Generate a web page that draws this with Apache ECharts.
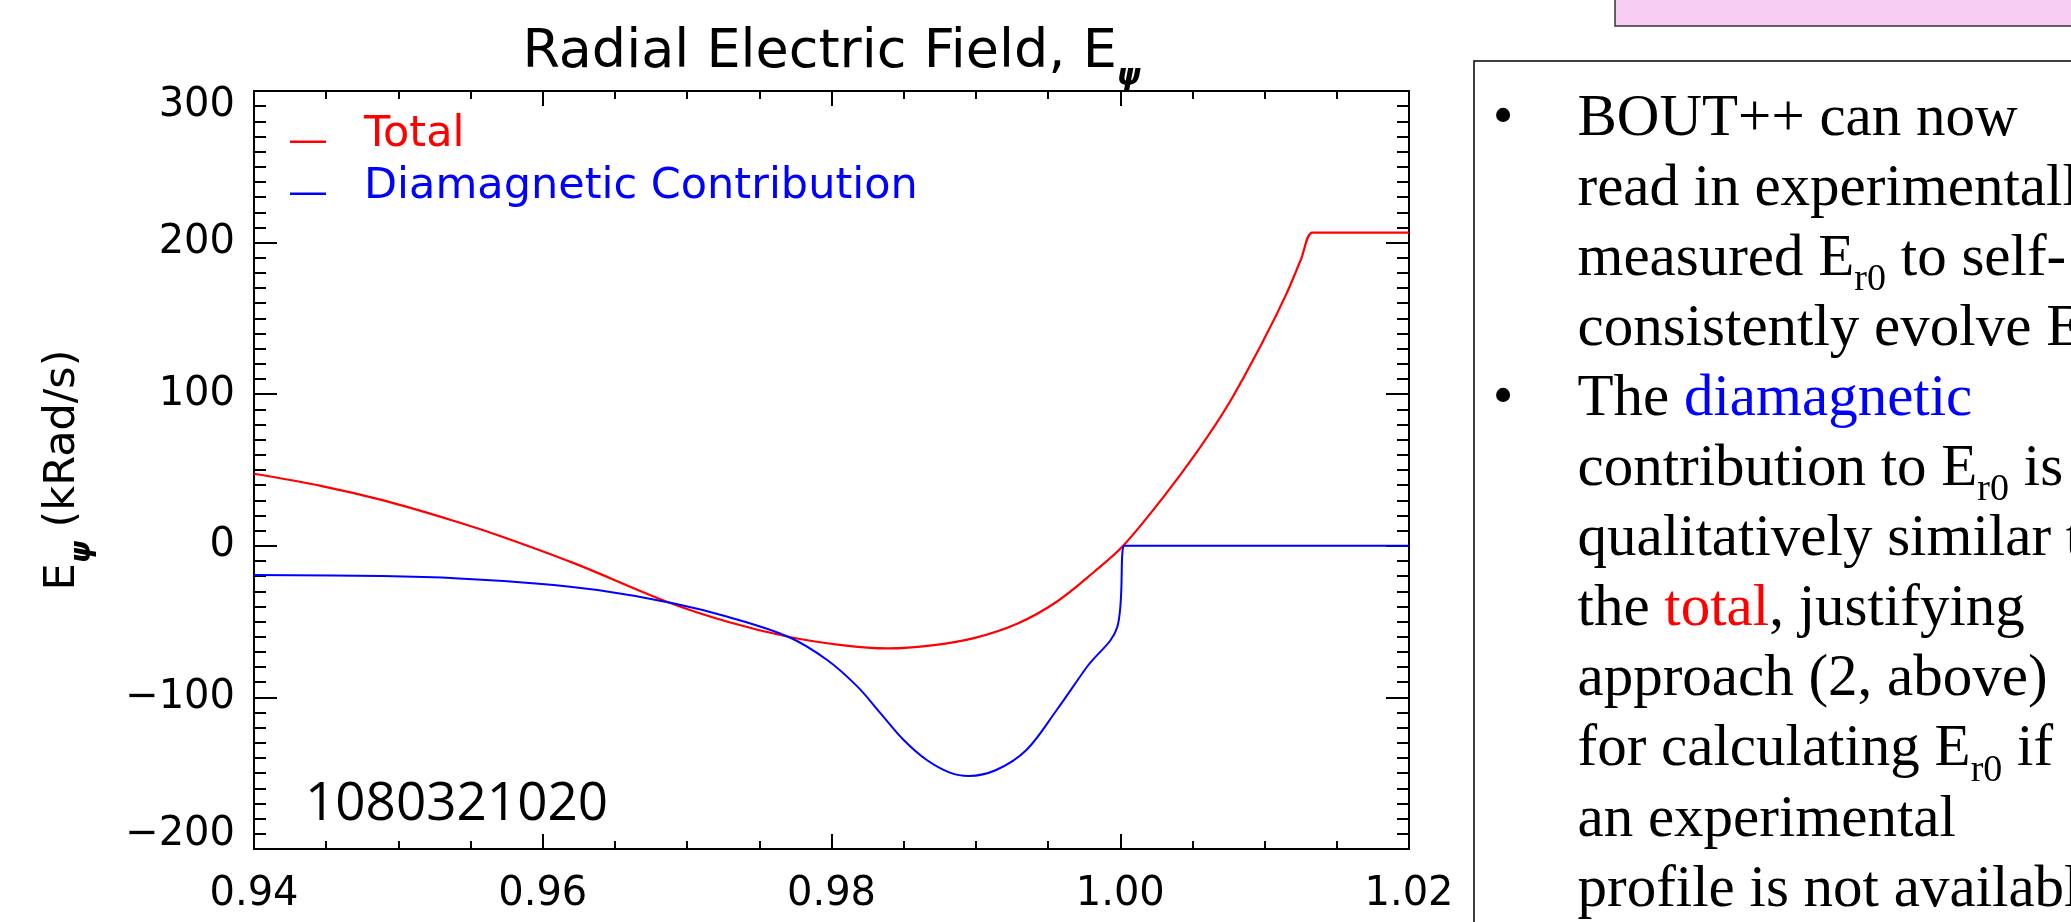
<!DOCTYPE html>
<html>
<head>
<meta charset="utf-8">
<script src="https://cdn.jsdelivr.net/npm/echarts@6/dist/echarts.min.js"></script>
<style>
  html, body { margin: 0; padding: 0; background: #ffffff; }
  #chart { width: 2071px; height: 922px; }
</style>
</head>
<body>
<div id="chart"></div>
<script>
// Radial electric field profiles against normalised flux (kRad/s)
const totalX = [0.9400, 0.9447, 0.9489, 0.9537, 0.9569, 0.9622, 0.9686, 0.9728, 0.9770, 0.9807,
                0.9839, 0.9871, 0.9898, 0.9929, 0.9956, 0.9982, 1.0002, 1.0030, 1.0054, 1.0075,
                1.0100, 1.0115, 1.0125, 1.0133, 1.0140, 1.0200];
const totalY = [47.5, 39.4, 30.1, 16.9, 7.0, -11.6, -36.9, -50.1, -60.0, -65.5,
                -67.7, -65.5, -61.1, -51.2, -36.9, -17.1, 0.0, 32.3, 63.1, 93.5,
                137.0, 166.0, 188.5, 206.6, 206.6, 206.6];

const diaX = [0.9400, 0.9489, 0.9542, 0.9595, 0.9638, 0.9691, 0.9728, 0.9770, 0.9797, 0.9818,
              0.9834, 0.9850, 0.9866, 0.9882, 0.9895, 0.9914, 0.9935, 0.9956, 0.9977, 0.9998,
              1.0003, 1.0010, 1.0200];
const diaY = [-19.3, -20.0, -21.5, -24.8, -29.2, -38.0, -46.8, -60.0, -75.3, -92.9,
              -110.5, -128.1, -141.3, -149.6, -151.8, -147.9, -134.7, -108.3, -79.8, -53.4,
              0.0, 0.0, 0.0];

const seriesNames = ['Total', 'Diamagnetic Contribution'];
const xTickLabels = ['0.94', '0.96', '0.98', '1.00', '1.02'];
const yTickLabels = ['\u2212200', '\u2212100', '0', '100', '200', '300'];
const shotLabel = '1080321020';

// Side panel notes, one entry per printed line
const noteLines = [
  '{n|BOUT++ can now}',
  '{n|read in experimentally}',
  '{n|measured E}{s|r0}{n| to self-}',
  '{n|consistently evolve E}{s|r}',
  '{n|The }{b|diamagnetic}',
  '{n|contribution to E}{s|r0}{n| is}',
  '{n|qualitatively similar to}',
  '{n|the }{r|total}{n|, justifying}',
  '{n|approach (2, above)}',
  '{n|for calculating E}{s|r0}{n| if}',
  '{n|an experimental}',
  '{n|profile is not available}'
];
const bulletLines = [0, 4];

const xMin = 0.94, xMax = 1.02, xStep = 0.02;
const yMin = -200, yMax = 300, yStep = 100;

const SANS = 'DejaVu Sans';
const SERIF = 'Liberation Serif';
const BLACK = '#000000';
const RED = '#ff0000';
const BLUE = '#0000ff';

const chart = echarts.init(document.getElementById('chart'), null, { renderer: 'canvas', width: 2071, height: 922 });

function pairs(xs, ys) { return xs.map((x, i) => [x, ys[i]]); }

function xAxisDef(position, withLabels) {
  return {
    type: 'value', position: position, min: xMin, max: xMax, interval: xStep,
    axisLine: { show: true, onZero: false, lineStyle: { color: BLACK, width: 2 } },
    axisTick: { show: true, inside: true, length: 15, lineStyle: { color: BLACK, width: 2 } },
    minorTick: { show: true, splitNumber: 4, length: 8, lineStyle: { color: BLACK, width: 2 } },
    splitLine: { show: false }, minorSplitLine: { show: false },
    axisLabel: {
      show: withLabels, margin: 26, color: BLACK, fontFamily: SANS, fontSize: 40,
      formatter: v => xTickLabels[Math.round((v - xMin) / xStep)]
    }
  };
}

function yAxisDef(position, withLabels) {
  const tok = { color: BLACK, fontFamily: SANS, fontSize: 40 };
  const def = {
    type: 'value', position: position, min: yMin, max: yMax, interval: yStep,
    axisLine: { show: true, onZero: false, lineStyle: { color: BLACK, width: 2 } },
    axisTick: { show: true, inside: true, length: 23, lineStyle: { color: BLACK, width: 2 } },
    minorTick: { show: true, splitNumber: 10, length: 12, lineStyle: { color: BLACK, width: 2 } },
    splitLine: { show: false }, minorSplitLine: { show: false },
    axisLabel: {
      show: withLabels, margin: 19, color: BLACK, fontFamily: SANS, fontSize: 40,
      formatter: v => {
        const i = Math.round((v - yMin) / yStep);
        const t = yTickLabels[i];
        if (i === 0) return '{lo|' + t + '}';
        if (i === yTickLabels.length - 1) return '{hi|' + t + '}';
        return '{m|' + t + '}';
      },
      rich: {
        m: Object.assign({}, tok),
        lo: Object.assign({ padding: [0, 0, 28, 0] }, tok),
        hi: Object.assign({ padding: [30, 0, 0, 0] }, tok)
      }
    }
  };
  if (withLabels) {
    def.name = '{e|E}{s|\u03C8}{e| (kRad/s)}';
    def.nameLocation = 'middle';
    def.nameRotate = 90;
    def.nameGap = 170;
    def.nameTextStyle = {
      rich: {
        e: { color: BLACK, fontFamily: SANS, fontSize: 43 },
        s: { color: BLACK, fontFamily: SANS, fontSize: 28, fontStyle: 'italic', fontWeight: 'bold', lineHeight: 20, padding: [40, 0, 0, 0] }
      }
    };
  }
  return def;
}

// Side panel: bordered box, bullets and text lines
const panelGraphics = [
  { type: 'rect', z: 10, shape: { x: 1615, y: -40, width: 600, height: 66 },
    style: { fill: '#f7cdf3', stroke: '#333333', lineWidth: 1.5 } },
  { type: 'rect', z: 10, shape: { x: 1474, y: 61, width: 700, height: 950 },
    style: { fill: '#ffffff', stroke: BLACK, lineWidth: 1.5 } }
];
const noteRich = {
  n: { fontFamily: SERIF, fontSize: 59, fill: BLACK },
  b: { fontFamily: SERIF, fontSize: 59, fill: BLUE },
  r: { fontFamily: SERIF, fontSize: 59, fill: RED },
  s: { fontFamily: SERIF, fontSize: 38, fill: BLACK, lineHeight: 20, padding: [42, 0, 0, 0] }
};
noteLines.forEach((line, i) => {
  const cy = 119 + 70.1 * i;
  panelGraphics.push({
    type: 'text', z: 11, x: 1577.5, y: cy,
    style: { text: line, rich: noteRich, fontFamily: SERIF, fontSize: 59, fill: BLACK, align: 'left', verticalAlign: 'middle' }
  });
  if (bulletLines.indexOf(i) >= 0) {
    panelGraphics.push({
      type: 'text', z: 11, x: 1503, y: cy,
      style: { text: '\u2022', fontFamily: SERIF, fontSize: 59, fill: BLACK, align: 'center', verticalAlign: 'middle' }
    });
  }
});

// Legend key: short bar sitting a little below the text centre
const legendKey = 'path://M0,0L0,0M0,14.5L36,14.5L36,17L0,17Z';

const option = {
  animation: false,
  backgroundColor: '#ffffff',
  textStyle: { fontFamily: SANS },
  title: {
    text: '{t|Radial Electric Field, E}{s|\u03C8}',
    left: 831.5, top: 26, padding: 0, textAlign: 'center',
    textStyle: {
      fontWeight: 'normal',
      rich: {
        t: { color: BLACK, fontFamily: SANS, fontSize: 54, fontWeight: 'normal' },
        s: { color: BLACK, fontFamily: SANS, fontSize: 30, fontStyle: 'italic', fontWeight: 'bold', lineHeight: 20, padding: [48, 0, 0, 0] }
      }
    }
  },
  legend: {
    orient: 'vertical', left: 290, top: 113, padding: 0,
    itemWidth: 36, itemHeight: 17, itemGap: 9, icon: legendKey, selectedMode: false,
    textStyle: { fontFamily: SANS, fontSize: 43, padding: [0, 0, 0, 33] },
    data: [
      { name: seriesNames[0], textStyle: { color: RED } },
      { name: seriesNames[1], textStyle: { color: BLUE } }
    ]
  },
  grid: { left: 254, top: 91, width: 1155, height: 758, containLabel: false },
  xAxis: [xAxisDef('bottom', true), xAxisDef('top', false)],
  yAxis: [yAxisDef('left', true), yAxisDef('right', false)],
  series: [
    {
      name: seriesNames[0], type: 'line', xAxisIndex: 0, yAxisIndex: 0,
      data: pairs(totalX, totalY), showSymbol: false, symbol: 'none', smooth: 0.35,
      lineStyle: { color: RED, width: 2.2 }, itemStyle: { color: RED }, z: 3
    },
    {
      name: seriesNames[1], type: 'line', xAxisIndex: 0, yAxisIndex: 0,
      data: pairs(diaX, diaY), showSymbol: false, symbol: 'none', smooth: 0.35,
      lineStyle: { color: BLUE, width: 2 }, itemStyle: { color: BLUE }, z: 4
    }
  ],
  graphic: [
    { type: 'text', z: 5, x: 305, y: 805,
      style: { text: shotLabel, fontFamily: 'Open Sans', fontSize: 53, fill: BLACK, align: 'left', verticalAlign: 'middle' } }
  ].concat(panelGraphics)
};

chart.setOption(option);
</script>
</body>
</html>
